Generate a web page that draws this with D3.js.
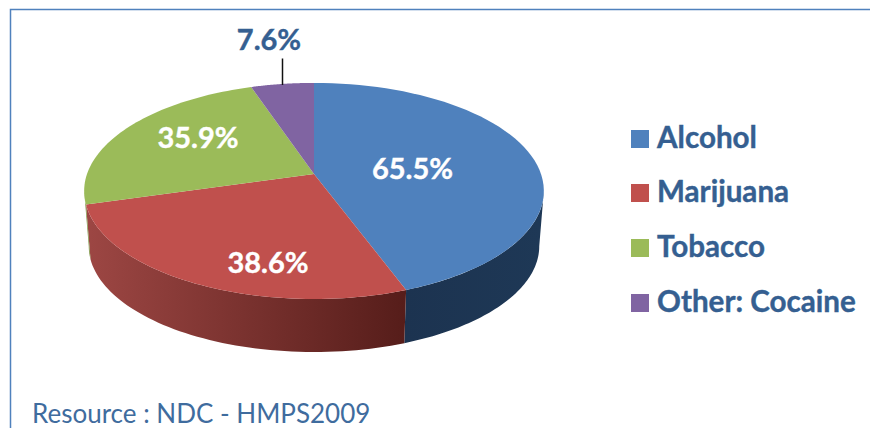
<!DOCTYPE html>
<html>
<head>
<meta charset="utf-8">
<script src="https://cdn.jsdelivr.net/npm/d3@7"></script>
<style>
html,body{margin:0;padding:0;background:#fff;overflow:hidden}
svg{display:block}
text{font-family:Lato,"Open Sans",sans-serif}
</style>
</head>
<body>
<svg id="c" width="870" height="428"></svg>
<script>
const categories = ["Alcohol", "Marijuana", "Tobacco", "Other: Cocaine"];
const values = [65.5, 38.6, 35.9, 7.6];
const valueLabels = ["65.5%", "38.6%", "35.9%", "7.6%"];
const sourceNote = "Resource : NDC - HMPS2009";

const colors = ["#4F81BD", "#C0504D", "#9BBB59", "#8064A2"];
const labelColors = ["#fff", "#fff", "#fff", "#355F91"];
const labelPos = [[412.5, 179], [268, 273], [198, 148], [269, 50]];
const legendBaselines = [148, 202, 257, 312];

const svg = d3.select("#c");

// frame
const frameColor = "#4F81BD";
svg.append("path")
  .attr("d", "M870,9.5H10.5V428")
  .attr("fill", "none").attr("stroke", frameColor).attr("stroke-width", 1.5);

// gradients for the pie wall
const defs = svg.append("defs");
const wallStops = [
  ["#1c3350", "#1e3856"],
  ["#9c4643", "#561d1a"],
  ["#7d9646", "#6f8740"],
  ["#65508a", "#5a4679"]
];
wallStops.forEach((s, i) => {
  const g = defs.append("linearGradient").attr("id", "wall" + i)
    .attr("gradientUnits", "userSpaceOnUse")
    .attr("x1", i === 0 ? 405 : 90).attr("x2", i === 0 ? 540 : 405)
    .attr("y1", 0).attr("y2", 0);
  g.append("stop").attr("offset", 0).attr("stop-color", s[0]);
  g.append("stop").attr("offset", 1).attr("stop-color", s[1]);
});

// perspective projection of a tilted disc
const apexX = 314, apexY = 174, depthY = 55.5, lowerScale = 0.98;
const R = 227, B = 105.4, K = 0.157;
function project(angle, r, lower) {
  const u = -Math.cos(angle) * r, v = Math.sin(angle) * r;
  const d = 1 - K * u, s = lower ? lowerScale : 1;
  return [apexX + s * R * v / d, apexY + (lower ? depthY : 0) + s * B * u / d];
}

const pie = d3.pie().sort(null).value(d => d);
const arcs = pie(values);
const line = d3.line();
const sample = (a0, a1) => d3.range(0, 61).map(i => a0 + (a1 - a0) * i / 60);

// visible wall range: from the right tangent to the left tangent
const tanR = Math.acos(-K), tanL = 2 * Math.PI - tanR;
arcs.forEach((a, i) => {
  const a0 = Math.max(a.startAngle, tanR), a1 = Math.min(a.endAngle, tanL);
  if (a1 <= a0) return;
  const ang = sample(a0, a1);
  const pts = ang.map(t => project(t, 1, false))
    .concat(ang.slice().reverse().map(t => project(t, 1, true)));
  svg.append("path").attr("d", line(pts) + "Z")
    .attr("fill", `url(#wall${i})`);
});

// top faces
arcs.forEach((a, i) => {
  const pts = [project(0, 0, false)].concat(sample(a.startAngle, a.endAngle).map(t => project(t, 1, false)));
  svg.append("path").attr("d", line(pts) + "Z").attr("fill", colors[i]);
});

// leader line
svg.append("line").attr("x1", 282.5).attr("x2", 282.5).attr("y1", 58.5).attr("y2", 85)
  .attr("stroke", "#111").attr("stroke-width", 1.5);

// value labels
svg.selectAll("text.v").data(valueLabels).enter().append("text")
  .attr("class", "v")
  .attr("x", (d, i) => labelPos[i][0]).attr("y", (d, i) => labelPos[i][1])
  .attr("text-anchor", "middle").attr("font-size", 29).attr("font-weight", 700)
  .attr("stroke", (d, i) => labelColors[i]).attr("stroke-width", 0.4)
  .attr("fill", (d, i) => labelColors[i]).text(d => d);

// legend
categories.forEach((c, i) => {
  svg.append("rect").attr("x", 631).attr("y", legendBaselines[i] - 18)
    .attr("width", 18).attr("height", 18).attr("fill", colors[i]);
  svg.append("text").attr("x", 657).attr("y", legendBaselines[i])
    .attr("font-size", 29.6).attr("font-weight", 700).attr("fill", "#355F91")
    .attr("stroke", "#355F91").attr("stroke-width", 0.4).text(c);
});

// source
svg.append("text").attr("x", 32).attr("y", 423)
  .attr("font-size", 26).attr("fill", "#3F6C9E").text(sourceNote);
</script>
</body>
</html>
